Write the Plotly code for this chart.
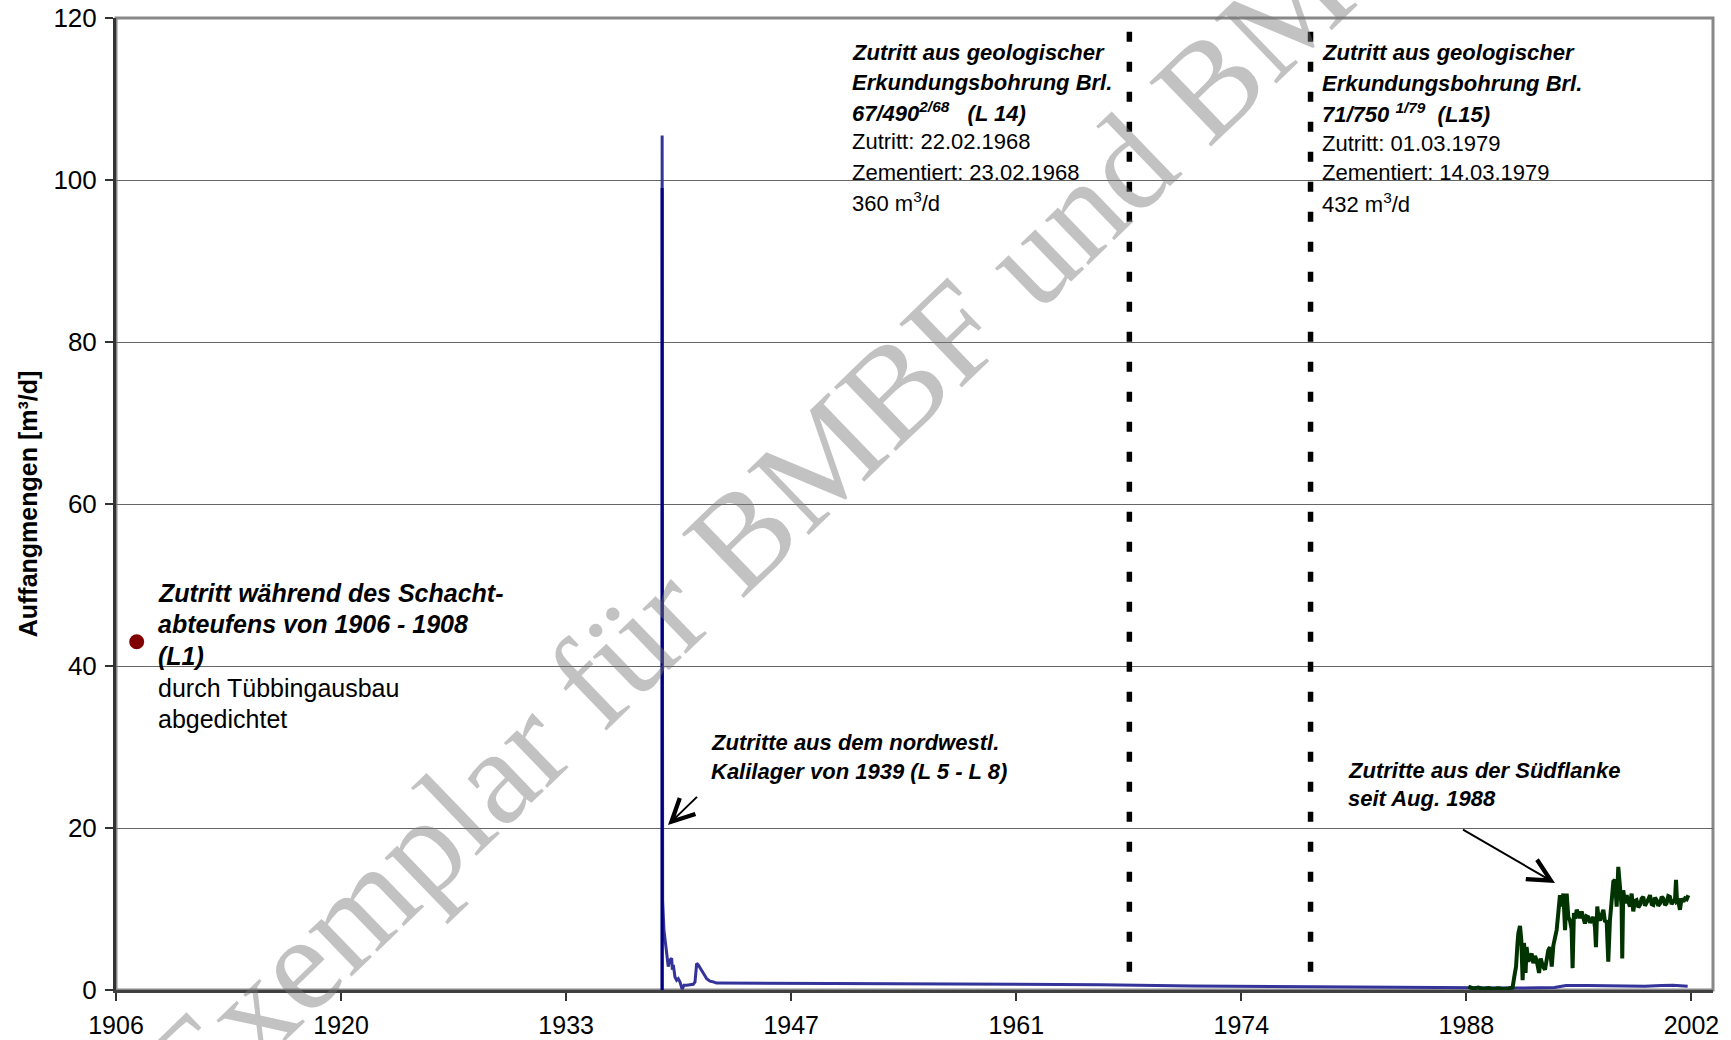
import plotly.graph_objects as go

# ---------------- data ----------------
x_tick_vals = [1906.5, 1920.19, 1933.88, 1947.57, 1961.26, 1974.95, 1988.64, 2002.33]
x_tick_labels = ["1906", "1920", "1933", "1947", "1961", "1974", "1988", "2002"]
y_tick_vals = [0, 20, 40, 60, 80, 100, 120]

# Zutritte aus dem nordwestl. Kalilager (L 5 - L 8)
blue_years = [1939.72, 1939.72, 1939.75, 1939.83, 1939.95, 1940.09, 1940.19, 1940.30, 1940.34,
              1940.40, 1940.50, 1940.60, 1940.70, 1940.80, 1940.94, 1941.05, 1941.21, 1941.61,
              1941.72, 1941.82, 1941.92, 1942.02, 1942.22, 1942.43, 1942.63, 1942.83, 1943.03,
              1950.0, 1961.0, 1966.4, 1972.0, 1979.3, 1984.0, 1988.7, 1992.0, 1994.0, 1994.7,
              1996.0, 1997.2, 1998.5, 1999.5, 2000.5, 2001.2, 2002.1]
blue_vals = [0.0, 105.5, 11.0, 7.4, 4.9, 2.9, 3.7, 3.9, 2.5,
             3.1, 1.6, 1.2, 1.4, 1.0, 0.1, 0.6, 0.6, 0.7,
             1.0, 3.3, 3.1, 2.7, 2.1, 1.4, 1.1, 1.0, 0.85,
             0.8, 0.75, 0.65, 0.5, 0.4, 0.3, 0.25, 0.25, 0.3, 0.55,
             0.55, 0.5, 0.4, 0.45, 0.55, 0.6, 0.45]

navy_years = [1939.72, 1939.72]
navy_vals = [0.0, 99.0]

# Zutritte aus der Suedflanke seit Aug. 1988
green_years = [1988.76, 1989.06, 1989.37, 1989.67, 1989.97, 1990.28, 1990.58, 1990.89, 1991.19,
               1991.45, 1991.55, 1991.66, 1991.74, 1991.80, 1991.90, 1991.98, 1992.06, 1992.14,
               1992.20, 1992.24, 1992.30, 1992.41, 1992.51, 1992.61, 1992.71, 1992.81, 1992.91,
               1993.06, 1993.16, 1993.28, 1993.42, 1993.52, 1993.62, 1993.72, 1993.83, 1993.93,
               1994.03, 1994.13, 1994.23, 1994.33, 1994.43, 1994.54, 1994.64, 1994.74, 1994.84,
               1994.94, 1995.04, 1995.10, 1995.18, 1995.27, 1995.35, 1995.45, 1995.55, 1995.65,
               1995.75, 1995.85, 1995.95, 1996.06, 1996.16, 1996.26, 1996.36, 1996.46, 1996.52,
               1996.60, 1996.68, 1996.77, 1996.87, 1996.97, 1997.07, 1997.17, 1997.27, 1997.37,
               1997.48, 1997.58, 1997.68, 1997.78, 1997.88, 1997.98, 1998.08, 1998.12, 1998.18,
               1998.29, 1998.39, 1998.49, 1998.59, 1998.69, 1998.79, 1998.89, 1998.99, 1999.10,
               1999.20, 1999.30, 1999.40, 1999.50, 1999.60, 1999.71, 1999.81, 1999.91, 2000.01,
               2000.11, 2000.21, 2000.31, 2000.42, 2000.52, 2000.62, 2000.72, 2000.82, 2000.92,
               2001.02, 2001.12, 2001.23, 2001.33, 2001.39, 2001.45, 2001.53, 2001.63, 2001.73,
               2001.84, 2001.94, 2002.04, 2002.14]
green_vals = [0.4, 0.2, 0.3, 0.1, 0.25, 0.1, 0.2, 0.1, 0.2,
              0.3, 1.6, 2.9, 5.5, 7.0, 7.9, 6.2, 1.2, 5.8,
              4.5, 2.1, 5.3, 3.5, 4.1, 4.5, 3.3, 4.2, 3.7,
              2.1, 3.9, 3.0, 2.5, 3.6, 4.9, 5.3, 2.9, 5.5,
              6.6, 7.4, 9.5, 11.7, 10.3, 11.9, 7.4, 11.9, 9.0,
              8.6, 7.5, 2.7, 9.5, 8.8, 9.9, 9.2, 8.9, 9.7,
              8.7, 8.2, 9.1, 9.0, 8.3, 8.6, 9.0, 7.8, 5.3,
              10.3, 8.9, 8.6, 9.4, 9.9, 8.4, 8.6, 3.5, 8.6,
              11.1, 13.4, 13.6, 10.3, 15.2, 12.3, 10.3, 3.9, 12.3,
              10.7, 11.7, 10.9, 10.3, 11.9, 9.7, 11.0, 11.1, 10.2,
              10.5, 11.3, 11.5, 10.4, 10.7, 11.2, 11.7, 10.6, 10.5,
              11.4, 11.1, 10.4, 10.7, 11.5, 11.3, 10.5, 10.7, 11.6,
              11.5, 10.6, 10.9, 11.2, 13.6, 10.9, 11.0, 9.9, 11.3,
              10.9, 11.3, 11.2, 11.7]

# Zutritt waehrend des Schachtabteufens (L1)
l1_years = [1907.76]
l1_vals = [43.0]

# Zutritte aus Erkundungsbohrungen (L 14, L15)
event_dates = [1968.14, 1979.16]

# annotation texts
l1_lines = ["Zutritt während des Schacht-", "abteufens von 1906 - 1908", "(L1)",
            "durch Tübbingausbau", "abgedichtet"]
l14_lines = ["Zutritt aus geologischer", "Erkundungsbohrung Brl.",
             "67/490<sup>2/68</sup>\u00a0\u00a0 (L 14)",
             "Zutritt: 22.02.1968", "Zementiert: 23.02.1968", "360 m<sup>3</sup>/d"]
l15_lines = ["Zutritt aus geologischer", "Erkundungsbohrung Brl.",
             "71/750 <sup>1/79</sup>\u00a0\u00a0(L15)",
             "Zutritt: 01.03.1979", "Zementiert: 14.03.1979", "432 m<sup>3</sup>/d"]
nw_lines = ["Zutritte aus dem nordwestl.", "Kalilager von 1939 (L 5 - L 8)"]
sued_lines = ["Zutritte aus der Südflanke", "seit Aug. 1988"]
watermark = "Exemplar für BMBF und BMU"

# ---------------- layout helpers ----------------
W, H = 1731, 1040
ML, MR, MT, MB = 116, 18, 18, 50
PW = W - ML - MR
PH = H - MT - MB
FONT = "Arial, 'Liberation Sans', sans-serif"


def px(x):
    return (x - ML) / PW


def py(y):
    return (H - MB - y) / PH


fig = go.Figure()
fig.add_trace(go.Scatter(x=blue_years, y=blue_vals, mode="lines",
                         line=dict(color="#333399", width=3), hoverinfo="skip"))
fig.add_trace(go.Scatter(x=navy_years, y=navy_vals, mode="lines",
                         line=dict(color="#000080", width=3), hoverinfo="skip"))
fig.add_trace(go.Scatter(x=green_years, y=green_vals, mode="lines",
                         line=dict(color="#003300", width=4), hoverinfo="skip"))
for d in event_dates:
    fig.add_trace(go.Scatter(x=[d, d], y=[118.3, 0], mode="lines",
                             line=dict(color="black", width=5.5, dash="10px,20px"),
                             hoverinfo="skip"))
fig.add_trace(go.Scatter(x=l1_years, y=l1_vals, mode="markers",
                         marker=dict(color="#800000", size=15), hoverinfo="skip"))

annotations = []


def add_block(lines, n_bold, left, first_y, spacing, size):
    for i, t in enumerate(lines):
        bold = i < n_bold
        annotations.append(dict(
            x=px(left), y=py(first_y + i * spacing), xref="paper", yref="paper",
            xanchor="left", yanchor="middle", showarrow=False, align="left",
            text=t,
            font=dict(family=FONT, size=size, color="black",
                      weight="bold" if bold else "normal",
                      style="italic" if bold else "normal")))


add_block(l1_lines, 3, 156, 593, 31.5, 25)
add_block(l14_lines, 3, 850, 52, 30, 22)
add_block(l15_lines, 3, 1320, 53, 30, 22)
add_block(nw_lines, 2, 709, 742, 29, 22)
add_block(sued_lines, 2, 1346, 770, 28.5, 22)

# arrows
for head, tail in [((668, 825), (700, 794)), ((1555, 883), (1460, 828))]:
    annotations.append(dict(
        x=px(head[0]), y=py(head[1]), xref="paper", yref="paper",
        ax=tail[0] - head[0], ay=tail[1] - head[1], axref="pixel", ayref="pixel",
        text=" ", showarrow=True, arrowhead=5, arrowsize=2.2, arrowwidth=2,
        arrowcolor="black", standoff=0, startstandoff=0))

# watermark
annotations.append(dict(
    x=px(782), y=py(497), xref="paper", yref="paper", xanchor="center", yanchor="middle",
    text=watermark, showarrow=False, textangle=-44,
    font=dict(family="'Liberation Serif', 'Times New Roman', serif", size=136,
              color="rgba(120,120,120,0.45)")))

fig.update_layout(
    width=W, height=H,
    margin=dict(l=ML, r=MR, t=MT, b=MB, autoexpand=False),
    paper_bgcolor="white", plot_bgcolor="white",
    showlegend=False,
    font=dict(family=FONT, color="black"),
    annotations=annotations,
    shapes=[dict(type="rect", xref="paper", yref="paper", x0=0, y0=0, x1=1, y1=1,
                 line=dict(color="#888888", width=3), layer="below")],
    xaxis=dict(range=[1906.5, 2003.64], tickmode="array", tickvals=x_tick_vals,
               ticktext=x_tick_labels, ticks="outside", ticklen=8, tickwidth=2,
               tickcolor="#333333", showline=True, linecolor="#404040", linewidth=3,
               showgrid=False, zeroline=False, tickfont=dict(size=25, color="black"),
               ticklabelstandoff=3, fixedrange=True),
    yaxis=dict(range=[0, 120], tickmode="array", tickvals=y_tick_vals,
               ticks="outside", ticklen=8, tickwidth=2, tickcolor="#333333",
               showline=True, linecolor="#333333", linewidth=3,
               showgrid=True, gridcolor="#666666", gridwidth=1, zeroline=False,
               tickfont=dict(size=26, color="black"), ticklabelstandoff=3,
               title=dict(text="Auffangmengen [m³/d]", standoff=9,
                          font=dict(size=25, weight="bold", color="black")),
               fixedrange=True),
)

fig.write_html("out.html", config={"displayModeBar": False},
               post_script="document.body.style.margin='0';document.body.style.overflow='hidden';")
